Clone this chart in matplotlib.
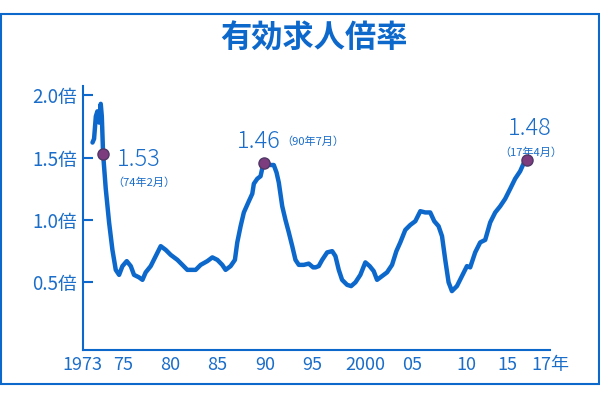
import matplotlib
matplotlib.use("Agg")
import matplotlib.pyplot as plt
from matplotlib.patches import Rectangle

plt.rcParams['font.family'] = ['Noto Sans CJK JP', 'DejaVu Sans']

# ratio (year, ratio)
years = [1973.00, 1973.16, 1973.34, 1973.50, 1973.67, 1973.84, 1973.95, 1974.08,
         1974.35, 1974.69, 1975.03, 1975.37, 1975.71, 1976.05, 1976.49, 1976.90,
         1977.23, 1977.74, 1978.09, 1978.42, 1978.93, 1979.44, 1979.95, 1980.46,
         1980.97, 1981.65, 1982.16, 1982.66, 1983.51, 1984.02, 1984.70, 1985.21,
         1985.72, 1986.22, 1986.56, 1987.07, 1987.51, 1987.75, 1988.09, 1988.42,
         1988.93, 1989.28, 1989.44, 1989.79, 1990.12, 1990.29, 1990.50, 1991.14,
         1991.47, 1991.75, 1991.98, 1992.33, 1992.66, 1993.00, 1993.35, 1993.68,
         1994.02, 1994.53, 1995.03, 1995.48, 1995.72, 1996.05, 1996.40, 1996.91,
         1997.42, 1997.75, 1998.09, 1998.43, 1998.94, 1999.35, 1999.79, 2000.29,
         2000.80, 2001.24, 2001.65, 2001.99, 2002.50, 2003.01, 2003.52, 2003.96,
         2004.36, 2004.87, 2005.38, 2005.89, 2006.40, 2006.90, 2007.41, 2007.82,
         2008.26, 2008.61, 2008.94, 2009.28, 2009.62, 2010.13, 2010.64, 2011.15,
         2011.48, 2011.99, 2012.50, 2013.01, 2013.52, 2014.03, 2014.54, 2015.05,
         2015.56, 2016.06, 2016.57, 2016.91, 2017.25]
ratio = [1.62, 1.65, 1.83, 1.87, 1.78, 1.93, 1.83, 1.53,
         1.25, 0.98, 0.76, 0.60, 0.56, 0.63, 0.67, 0.63,
         0.56, 0.54, 0.52, 0.58, 0.63, 0.71, 0.79, 0.76,
         0.72, 0.68, 0.64, 0.60, 0.60, 0.64, 0.67, 0.70,
         0.68, 0.64, 0.60, 0.63, 0.68, 0.82, 0.95, 1.06,
         1.15, 1.21, 1.29, 1.33, 1.35, 1.41, 1.46, 1.44,
         1.44, 1.38, 1.30, 1.11, 1.00, 0.90, 0.79, 0.68,
         0.64, 0.64, 0.65, 0.62, 0.62, 0.63, 0.68, 0.74,
         0.75, 0.71, 0.60, 0.52, 0.48, 0.47, 0.50, 0.56,
         0.66, 0.63, 0.59, 0.52, 0.55, 0.58, 0.64, 0.75,
         0.82, 0.92, 0.96, 0.99, 1.07, 1.06, 1.06, 0.99,
         0.95, 0.87, 0.68, 0.50, 0.43, 0.47, 0.55, 0.63,
         0.62, 0.74, 0.82, 0.84, 0.98, 1.06, 1.11, 1.17,
         1.25, 1.33, 1.39, 1.45, 1.48]

peak_years = [1974.08, 1990.50, 2017.25]
peak_values = [1.53, 1.46, 1.48]
peak_value_labels = ['1.53', '1.46', '1.48']
peak_date_labels = ['（74年2月）', '（90年7月）', '（17年4月）']

ytick_values = [0.5, 1.0, 1.5, 2.0]
ytick_labels = ['0.5倍', '1.0倍', '1.5倍', '2.0倍']
xtick_pos = [1972.0, 1976.15, 1980.9, 1985.75, 1990.63, 1995.4, 2000.8,
             2005.58, 2011.07, 2015.24, 2019.62]
xtick_labels = ['1973', '75', '80', '85', '90', '95', '2000', '05', '10', '15', '17年']

blue = '#0d68cb'
text_blue = '#1a6dc9'

fig = plt.figure(figsize=(6, 4), dpi=100)
ax = fig.add_axes([0.1378, 0.125, 0.779, 0.66])

ax.plot(years, ratio, color=blue, lw=3.2, solid_joinstyle='round',
        solid_capstyle='round', zorder=3)
ax.plot(peak_years, peak_values, 'o', ms=8, mfc='#7d3c7d', mec='#4f3868',
        mew=1, zorder=4)

# value and date labels next to the peaks
value_offsets = [(14, -6), (-27, 21.5), (3, 32)]
value_ha = ['left', 'left', 'center']
date_offsets = [(9, -28.5), (17, 21), (4, 7)]
date_ha = ['left', 'left', 'center']
for i in range(3):
    ax.annotate(peak_value_labels[i], (peak_years[i], peak_values[i]),
                xytext=value_offsets[i], textcoords='offset pixels',
                ha=value_ha[i], va='center', fontsize=17, color=text_blue,
                fontweight='light')
    ax.annotate(peak_date_labels[i], (peak_years[i], peak_values[i]),
                xytext=date_offsets[i], textcoords='offset pixels',
                ha=date_ha[i], va='center', fontsize=8, color=text_blue)

ax.set_xlim(1972.08, 2019.62)
ax.set_ylim(-0.042, 2.073)
ax.set_yticks(ytick_values)
ax.set_yticklabels(ytick_labels)
ax.set_xticks(xtick_pos)
ax.set_xticklabels(xtick_labels)

for s in ['top', 'right']:
    ax.spines[s].set_visible(False)
for s in ['left', 'bottom']:
    ax.spines[s].set_color(blue)
    ax.spines[s].set_linewidth(1.5)

ax.tick_params(axis='y', direction='in', length=7.5, width=1.5, color=blue,
               labelcolor=text_blue, labelsize=13.5, pad=4)
ax.tick_params(axis='x', length=0, labelcolor=text_blue, labelsize=13, pad=4)

fig.text(314 / 600, 1 - 38.5 / 400, '有効求人倍率', ha='center', va='center',
         fontsize=22.5, fontweight='bold', color=blue)

fig.patches.append(Rectangle((1 / 600, 16 / 400), 598 / 600, 370 / 400,
                             transform=fig.transFigure, fill=False,
                             edgecolor=blue, lw=1.5))

fig.savefig('out.png', dpi=100)
